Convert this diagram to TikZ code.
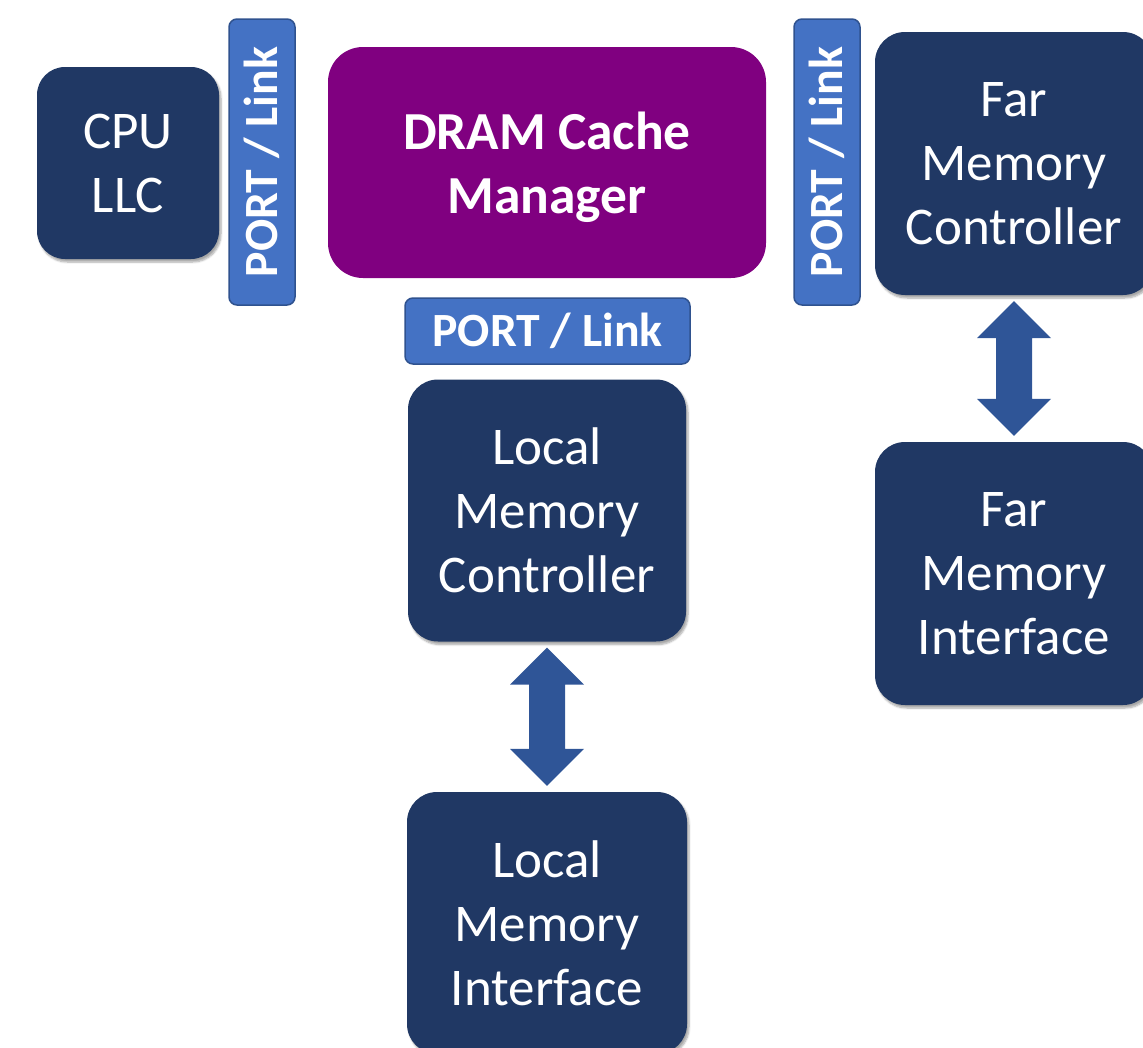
\documentclass[tikz,border=0pt]{standalone}
\usepackage{fontspec}
\setmainfont{Carlito}
\usetikzlibrary{calc,shadows.blur}

\definecolor{boxnavy}{HTML}{203864}
\definecolor{boxpurple}{HTML}{800080}
\definecolor{portfill}{HTML}{4472C4}
\definecolor{portline}{HTML}{2F528F}
\definecolor{arrowblue}{HTML}{2F5597}

\def\dG{6pt}   % gap between block arrow and box
\def\dH{37pt}  % half head width / head length
\def\dS{18pt}  % half shaft width

%% block double arrow between two boxes (top, bottom)
\newcommand{\dblarrow}[2]{%
  \fill[arrowblue] let \p1=(#1.south), \p2=(#2.north) in
    (\x1,\y1-\dG) -- (\x1+\dH,\y1-\dG-\dH) -- (\x1+\dS,\y1-\dG-\dH)
    -- (\x1+\dS,\y2+\dG+\dH) -- (\x1+\dH,\y2+\dG+\dH) -- (\x1,\y2+\dG)
    -- (\x1-\dH,\y2+\dG+\dH) -- (\x1-\dS,\y2+\dG+\dH)
    -- (\x1-\dS,\y1-\dG-\dH) -- (\x1-\dH,\y1-\dG-\dH) -- cycle;}

\tikzset{
  unitbox/.style={fill=boxnavy, rounded corners=30pt, text=white, align=center,
    font=\fontsize{53}{64}\selectfont, inner sep=0pt,
    blur shadow={shadow xshift=2pt, shadow yshift=-3pt, shadow blur steps=6, shadow opacity=35}},
  portbox/.style={fill=portfill, draw=portline, line width=1.5pt, rounded corners=8pt,
    text=white, font=\fontsize{47.7}{56}\selectfont\bfseries, inner sep=0pt}
}

\begin{document}
\begin{tikzpicture}[x=1pt,y=-1pt]
    \useasboundingbox (0,0) rectangle (1143,1047);

    %%   (lable)  (x, y)     {\text}
    \node[unitbox, minimum width=182pt, minimum height=192pt, rounded corners=28pt] (cpu) at (128,163) {CPU\\LLC};
    \node[unitbox, fill=boxpurple, minimum width=438pt, minimum height=231pt, rounded corners=35pt,
          blur shadow={shadow opacity=0},
          label={[text=white, align=center, font=\fontsize{53.5}{64}\selectfont\bfseries, yshift=-5pt]center:{DRAM Cache\\Manager}}] (dcm) at (547,162.5) {};
    \node[unitbox, minimum width=278pt, minimum height=263pt] (fmc) at (1014,163.5) {Far\\Memory\\Controller};
    \node[unitbox, minimum width=278pt, minimum height=262pt] (lmc) at (547,510.5) {Local\\Memory\\Controller};
    \node[unitbox, minimum width=280pt, minimum height=262pt] (lmi) at (547,923) {Local\\Memory\\Interface};
    \node[unitbox, minimum width=278pt, minimum height=263pt] (fmi) at (1014,573.5) {Far\\Memory\\Interface};

    \node[portbox, minimum width=286pt, minimum height=66pt, rotate=90] (portL) at (262,162) {PORT / Link};
    \node[portbox, minimum width=286pt, minimum height=66pt, rotate=90] (portR) at (827,162) {PORT / Link};
    \node[portbox, minimum width=285pt, minimum height=66pt] (portB) at (547.5,331) {PORT / Link};

    \dblarrow{lmc}{lmi}
    \dblarrow{fmc}{fmi}

  \end{tikzpicture}
\end{document}
